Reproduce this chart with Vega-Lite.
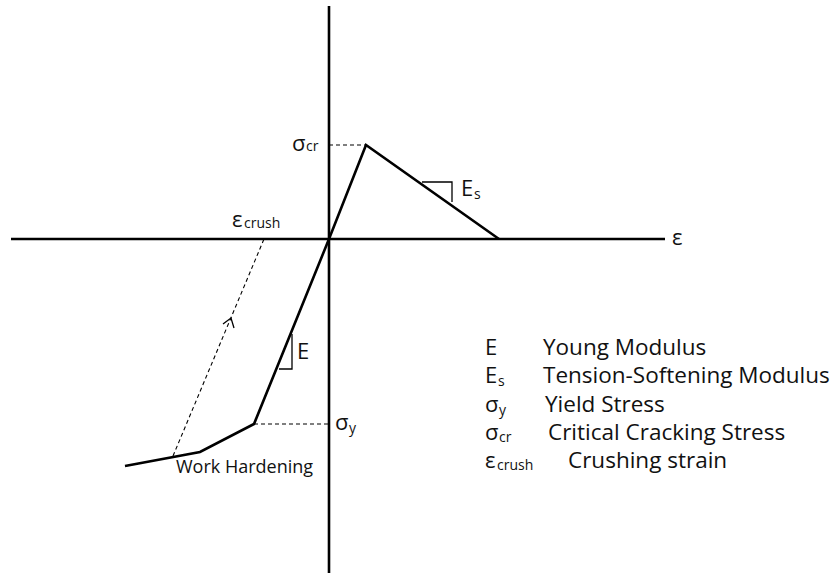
{
  "$schema": "https://vega.github.io/schema/vega-lite/v6.json",
  "width": 833,
  "height": 573,
  "padding": 0,
  "autosize": {"type": "none"},
  "background": "white",
  "config": {"view": {"stroke": null}, "text": {"font": "Open Sans", "color": "#111111"}},
  "datasets": {
    "segs": [
      {"id": "haxis", "kind": "axis", "o": 1, "x": -318, "y": 0},
      {"id": "haxis", "kind": "axis", "o": 2, "x": 336, "y": 0},
      {"id": "vaxis", "kind": "axis", "o": 1, "x": 0, "y": 233},
      {"id": "vaxis", "kind": "axis", "o": 2, "x": 0, "y": -334},
      {"id": "curve", "kind": "curve", "o": 1, "x": -204, "y": -227},
      {"id": "curve", "kind": "curve", "o": 2, "x": -129, "y": -213},
      {"id": "curve", "kind": "curve", "o": 3, "x": -75, "y": -185},
      {"id": "curve", "kind": "curve", "o": 4, "x": 0, "y": 0},
      {"id": "curve", "kind": "curve", "o": 5, "x": 37, "y": 94},
      {"id": "curve", "kind": "curve", "o": 6, "x": 170, "y": 0},
      {"id": "scr", "kind": "dash", "o": 1, "x": 0, "y": 94},
      {"id": "scr", "kind": "dash", "o": 2, "x": 37, "y": 94},
      {"id": "sy", "kind": "dash", "o": 1, "x": -75, "y": -185},
      {"id": "sy", "kind": "dash", "o": 2, "x": 0, "y": -185},
      {"id": "crush", "kind": "dash", "o": 1, "x": -156, "y": -217},
      {"id": "crush", "kind": "dash", "o": 2, "x": -65, "y": 0},
      {"id": "arrow", "kind": "thin", "o": 1, "x": -106, "y": -85},
      {"id": "arrow", "kind": "thin", "o": 2, "x": -98, "y": -79},
      {"id": "arrow", "kind": "thin", "o": 3, "x": -95, "y": -89},
      {"id": "tEs", "kind": "thin", "o": 1, "x": 93, "y": 57},
      {"id": "tEs", "kind": "thin", "o": 2, "x": 123, "y": 57},
      {"id": "tEs", "kind": "thin", "o": 3, "x": 123, "y": 37},
      {"id": "tE", "kind": "thin", "o": 1, "x": -37, "y": -95},
      {"id": "tE", "kind": "thin", "o": 2, "x": -37, "y": -130},
      {"id": "tE", "kind": "thin", "o": 3, "x": -50, "y": -130}
    ],
    "labels": [
      {"role": "sym", "x": -37, "y": 88, "t": "σ"},
      {"role": "sub", "x": -23, "y": 88, "t": "cr"},
      {"role": "sym", "x": 132, "y": 43, "t": "E"},
      {"role": "sub", "x": 145, "y": 40, "t": "s"},
      {"role": "sym", "x": -97, "y": 12, "t": "ε"},
      {"role": "sub", "x": -85, "y": 11, "t": "crush"},
      {"role": "sym", "x": 343, "y": -6, "t": "ε"},
      {"role": "sym", "x": 6, "y": -191, "t": "σ"},
      {"role": "sub", "x": 20, "y": -194, "t": "y"},
      {"role": "sym", "x": -32, "y": -120, "t": "E"},
      {"role": "note", "x": -153, "y": -234, "t": "Work Hardening"},
      {"role": "sym", "x": 156, "y": -116, "t": "E"},
      {"role": "desc", "x": 214, "y": -116, "t": "Young Modulus"},
      {"role": "sym", "x": 156, "y": -144, "t": "E"},
      {"role": "sub", "x": 169, "y": -147, "t": "s"},
      {"role": "desc", "x": 214, "y": -144, "t": "Tension-Softening Modulus"},
      {"role": "sym", "x": 156, "y": -173, "t": "σ"},
      {"role": "sub", "x": 170, "y": -176, "t": "y"},
      {"role": "desc", "x": 216, "y": -173, "t": "Yield Stress"},
      {"role": "sym", "x": 156, "y": -201, "t": "σ"},
      {"role": "sub", "x": 170, "y": -203, "t": "cr"},
      {"role": "desc", "x": 219, "y": -201, "t": "Critical Cracking Stress"},
      {"role": "sym", "x": 156, "y": -229, "t": "ε"},
      {"role": "sub", "x": 168, "y": -231, "t": "crush"},
      {"role": "desc", "x": 239, "y": -229, "t": "Crushing strain"}
    ]
  },
  "encoding": {
    "x": {"field": "x", "type": "quantitative", "axis": null, "scale": {"domain": [-329, 504], "nice": false, "zero": false}},
    "y": {"field": "y", "type": "quantitative", "axis": null, "scale": {"domain": [-334, 239], "nice": false, "zero": false}}
  },
  "layer": [
    {
      "data": {"name": "segs"},
      "transform": [{"filter": "datum.kind === 'axis'"}],
      "mark": {"type": "line", "color": "black", "strokeWidth": 2.6, "strokeCap": "butt"},
      "encoding": {"detail": {"field": "id"}, "order": {"field": "o"}}
    },
    {
      "data": {"name": "segs"},
      "transform": [{"filter": "datum.kind === 'curve'"}],
      "mark": {"type": "line", "color": "black", "strokeWidth": 2.6, "strokeJoin": "miter"},
      "encoding": {"detail": {"field": "id"}, "order": {"field": "o"}}
    },
    {
      "data": {"name": "segs"},
      "transform": [{"filter": "datum.kind === 'dash'"}],
      "mark": {"type": "line", "color": "black", "strokeWidth": 1.1, "strokeDash": [4, 3]},
      "encoding": {"detail": {"field": "id"}, "order": {"field": "o"}}
    },
    {
      "data": {"name": "segs"},
      "transform": [{"filter": "datum.kind === 'thin'"}],
      "mark": {"type": "line", "color": "black", "strokeWidth": 1.3},
      "encoding": {"detail": {"field": "id"}, "order": {"field": "o"}}
    },
    {
      "data": {"name": "labels"},
      "transform": [{"filter": "datum.role === 'sym'"}],
      "mark": {"type": "text", "align": "left", "baseline": "alphabetic", "fontSize": 22},
      "encoding": {"text": {"field": "t"}}
    },
    {
      "data": {"name": "labels"},
      "transform": [{"filter": "datum.role === 'sub'"}],
      "mark": {"type": "text", "align": "left", "baseline": "alphabetic", "fontSize": 14},
      "encoding": {"text": {"field": "t"}}
    },
    {
      "data": {"name": "labels"},
      "transform": [{"filter": "datum.role === 'desc'"}],
      "mark": {"type": "text", "align": "left", "baseline": "alphabetic", "fontSize": 22.5},
      "encoding": {"text": {"field": "t"}}
    },
    {
      "data": {"name": "labels"},
      "transform": [{"filter": "datum.role === 'note'"}],
      "mark": {"type": "text", "align": "left", "baseline": "alphabetic", "fontSize": 18},
      "encoding": {"text": {"field": "t"}}
    }
  ]
}
